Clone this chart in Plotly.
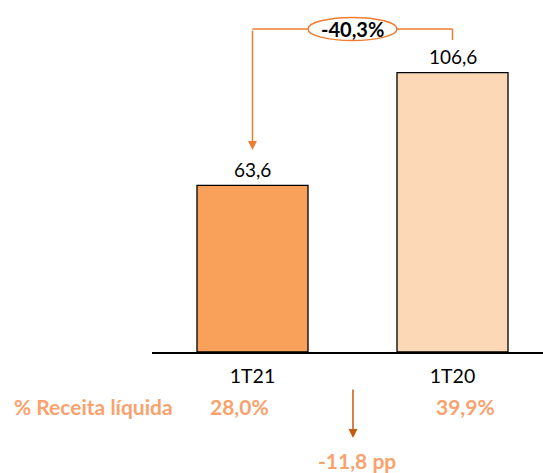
import plotly.graph_objects as go

categories = ["1T21", "1T20"]
values = [63.6, 106.6]
value_labels = ["63,6", "106,6"]
bar_colors = ["#F9A05A", "#FCD8B6"]
margin_labels = ["28,0%", "39,9%"]
row_label = "% Receita líquida"
change_label = "-40,3%"
pp_label = "-11,8 pp"

FONT = "Lato"
ORANGE = "#ED7D31"
SALMON = "#F9A26E"
DARK = "#C55A11"

W, H = 543, 473

fig = go.Figure()
fig.add_trace(go.Bar(
    x=[0, 1], y=values,
    marker=dict(color=bar_colors, line=dict(color="black", width=1.3)),
    width=0.555,
    hoverinfo="skip",
))
for i, (v, lab) in enumerate(zip(values, value_labels)):
    fig.add_annotation(x=i, y=v, xref="x", yref="y", text=lab, showarrow=False,
                       xanchor="center", yanchor="middle", yshift=16,
                       font=dict(family=FONT, size=19, color="black"))

top_y = max(values) + 16.7
right_end = max(values) + 12.5
left_tip = values[0] + 13.5

# bracket lines
fig.add_shape(type="line", xref="x", yref="y", x0=0, x1=1, y0=top_y, y1=top_y,
              line=dict(color=ORANGE, width=1.5))
fig.add_shape(type="line", xref="x", yref="y", x0=1, x1=1, y0=top_y, y1=right_end,
              line=dict(color=ORANGE, width=1.5))
fig.add_annotation(x=0, y=left_tip, ax=0, ay=top_y, xref="x", yref="y", axref="x", ayref="y",
                   text="", showarrow=True, arrowhead=2, arrowsize=1.2, arrowwidth=1.5,
                   arrowcolor=ORANGE)
fig.add_shape(type="circle", xref="x", yref="y", x0=0.2775, x1=0.7225,
              y0=top_y - 4.4, y1=top_y + 4.4,
              line=dict(color=ORANGE, width=1.5), fillcolor="white")
fig.add_annotation(x=0.5, y=top_y, xref="x", yref="y", text="<b>" + change_label + "</b>",
                   showarrow=False, xanchor="center", yanchor="middle",
                   font=dict(family=FONT, size=20, color="black"))

# bottom row
fig.add_annotation(x=12 / W, y=1 - 406 / H, xref="paper", yref="paper",
                   xanchor="left", yanchor="middle",
                   text="<b>" + row_label + "</b>", showarrow=False,
                   font=dict(family=FONT, size=21, color=SALMON))
for xc, lab in zip([239, 465], margin_labels):
    fig.add_annotation(x=xc / W, y=1 - 406 / H, xref="paper", yref="paper",
                       xanchor="center", yanchor="middle",
                       text="<b>" + lab + "</b>", showarrow=False,
                       font=dict(family=FONT, size=21, color=SALMON))
fig.add_annotation(x=353 / W, y=1 - 438 / H, ax=0, ay=-50,
                   xref="paper", yref="paper", axref="pixel", ayref="pixel",
                   text="", showarrow=True, arrowhead=2, arrowsize=1.2, arrowwidth=1.5,
                   arrowcolor=DARK)
fig.add_annotation(x=357 / W, y=1 - 460 / H, xref="paper", yref="paper",
                   xanchor="center", yanchor="middle",
                   text="<b>" + pp_label + "</b>", showarrow=False,
                   font=dict(family=FONT, size=21, color=SALMON))

fig.update_layout(
    width=W, height=H,
    margin=dict(l=0, r=0, t=0, b=0),
    paper_bgcolor="white", plot_bgcolor="white",
    showlegend=False,
    xaxis=dict(domain=[152 / W, 1], range=[-0.5025, 1.4525],
               tickvals=[0, 1], ticktext=categories,
               tickfont=dict(family=FONT, size=19.5, color="black"),
               showline=True, linecolor="black", linewidth=1.5,
               showgrid=False, zeroline=False, ticks="", ticklabelstandoff=6),
    yaxis=dict(domain=[(H - 352) / H, 1], range=[0, 352 / 2.62],
               visible=False, showgrid=False),
)

fig.write_html("out.html", config={"displayModeBar": False},
               post_script="document.body.style.margin='0';document.body.style.overflow='hidden';")
